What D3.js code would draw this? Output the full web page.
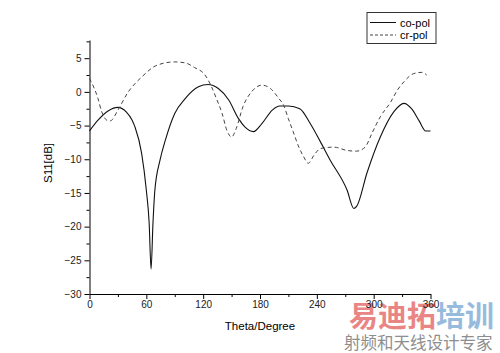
<!DOCTYPE html>
<html>
<head>
<meta charset="utf-8">
<script src="https://cdn.jsdelivr.net/npm/d3@7"></script>
<style>
  body { margin: 0; background: #fff; }
  svg { display: block; font-family: "Liberation Sans", Arial, sans-serif; }
</style>
</head>
<body>
<div id="chart"></div>
<script>
// co-pol (solid) : [theta, S11]
const coPol = [
  [0, -5.8], [9, -4.2], [20, -2.8], [30, -2.3], [39, -3.0], [45, -4.2], [48, -5.2],
  [55, -9.1], [60, -14.6], [63, -19.5], [65, -26.3], [67, -19.5], [69, -14.6],
  [74.5, -10.1], [80, -7.2], [90, -3.2], [101, -1.0], [115, 0.75], [125, 1.1],
  [136, 0.5], [147, -1.2], [157, -3.9], [164, -5.2], [173, -5.9], [182, -4.7],
  [193, -2.7], [201, -2.1], [210, -2.1], [222, -2.5], [233, -4.7], [243, -7.2],
  [254, -10.1], [272, -14.6], [279, -17.3], [282, -17.0], [293, -12.0], [307, -6.7],
  [321, -3.0], [332, -1.7], [340, -2.5], [348, -4.3], [355, -5.8], [360, -5.8]
];
// cr-pol (dashed)
const crPol = [
  [0, 2.0], [9, -1.0], [13, -3.0], [20, -4.3], [22, -4.3], [30, -2.7], [40, -0.2],
  [55, 2.2], [72, 4.0], [90, 4.45], [101, 4.3], [111, 3.6], [122, 2.5], [129, 0.7],
  [134, -1.0], [140, -3.2], [145, -5.7], [150, -6.7], [155, -5.4], [162, -2.2],
  [171, 0], [182, 1.0], [191, 0.5], [200, -1.0], [205, -2.0], [210, -4.0],
  [215, -5.9], [221, -8.2], [226, -9.6], [231, -10.6], [237, -9.4], [244, -8.4],
  [258, -8.2], [272, -8.7], [282, -8.8], [291, -8.2], [298, -6.2], [307, -3.7],
  [318, -1.5], [325, 0.25], [332, 1.5], [342, 2.7], [351, 2.9], [356, 2.5]
];
const xTicks = [0, 60, 120, 180, 240, 300, 360];
const xMinor = [30, 90, 150, 210, 270, 330];
const yTicks = [-30, -25, -20, -15, -10, -5, 0, 5];
const yMinor = [-27.5, -22.5, -17.5, -12.5, -7.5, -2.5, 2.5, 7.5];
const seriesNames = ["co-pol", "cr-pol"];

const width = 500, height = 353;
const svg = d3.select("#chart").append("svg")
  .attr("width", width).attr("height", height);

// watermark (sits under the chart)
const wm = svg.append("g");
const wm1 = wm.append("text")
  .attr("x", 349).attr("y", 327)
  .style("font-family", "'Noto Sans CJK SC'")
  .style("font-weight", "bold")
  .style("font-size", "29px");
wm1.append("tspan").attr("fill", "#e98585").text("易迪拓");
wm1.append("tspan").attr("fill", "#97bbdd").text("培训");
wm.append("text")
  .attr("x", 344).attr("y", 349)
  .style("font-family", "'Noto Sans CJK SC'")
  .style("font-size", "16.5px")
  .attr("fill", "#8e8e8e")
  .text("射频和天线设计专家");

const x = d3.scaleLinear().domain([0, 360]).range([89.5, 430.5]);
const y = d3.scaleLinear().domain([-30, 7.7]).range([294, 40]);

// minor ticks
svg.append("g")
  .attr("transform", "translate(0,294)")
  .call(d3.axisBottom(x).tickValues(xMinor).tickSize(3).tickFormat(""))
  .call(g => g.select(".domain").remove());
svg.append("g")
  .attr("transform", "translate(89.5,0)")
  .call(d3.axisLeft(y).tickValues(yMinor).tickSize(3).tickFormat(""))
  .call(g => g.select(".domain").remove());

// major axes
svg.append("g")
  .attr("transform", "translate(0,294)")
  .call(d3.axisBottom(x).tickValues(xTicks).tickSize(5).tickSizeOuter(0).tickPadding(2));
svg.append("g")
  .attr("transform", "translate(89.5,0)")
  .call(d3.axisLeft(y).tickValues(yTicks).tickSize(5).tickSizeOuter(0).tickPadding(3));

svg.selectAll(".tick text")
  .style("font-size", "10px")
  .style("font-family", "'Liberation Sans', Arial, sans-serif")
  .attr("fill", "#222");
svg.selectAll(".domain, .tick line").attr("stroke", "#000");

// axis titles
svg.append("text")
  .attr("x", 260).attr("y", 330)
  .attr("text-anchor", "middle")
  .style("font-size", "11.5px")
  .text("Theta/Degree");
svg.append("text")
  .attr("transform", "translate(52,163) rotate(-90)")
  .attr("text-anchor", "middle")
  .style("font-size", "11.5px")
  .text("S11[dB]");

const line = d3.line()
  .x(d => x(d[0]))
  .y(d => y(d[1]))
  .curve(d3.curveMonotoneX);

svg.append("path")
  .datum(coPol)
  .attr("d", line)
  .attr("fill", "none")
  .attr("stroke", "#111")
  .attr("stroke-width", 1.1);

svg.append("path")
  .datum(crPol)
  .attr("d", line)
  .attr("fill", "none")
  .attr("stroke", "#444")
  .attr("stroke-width", 1)
  .attr("stroke-dasharray", "4,3");

// legend
const legend = svg.append("g");
legend.append("rect")
  .attr("x", 367).attr("y", 12.5)
  .attr("width", 69).attr("height", 31)
  .attr("fill", "#fff")
  .attr("stroke", "#333");
seriesNames.forEach((name, i) => {
  const ly = 22.5 + i * 12.5;
  legend.append("line")
    .attr("x1", 370).attr("x2", 396)
    .attr("y1", ly).attr("y2", ly)
    .attr("stroke", i === 0 ? "#111" : "#444")
    .attr("stroke-dasharray", i === 0 ? null : "3,2");
  legend.append("text")
    .attr("x", 400).attr("y", ly + 4)
    .style("font-size", "11px")
    .text(name);
});
</script>
</body>
</html>
